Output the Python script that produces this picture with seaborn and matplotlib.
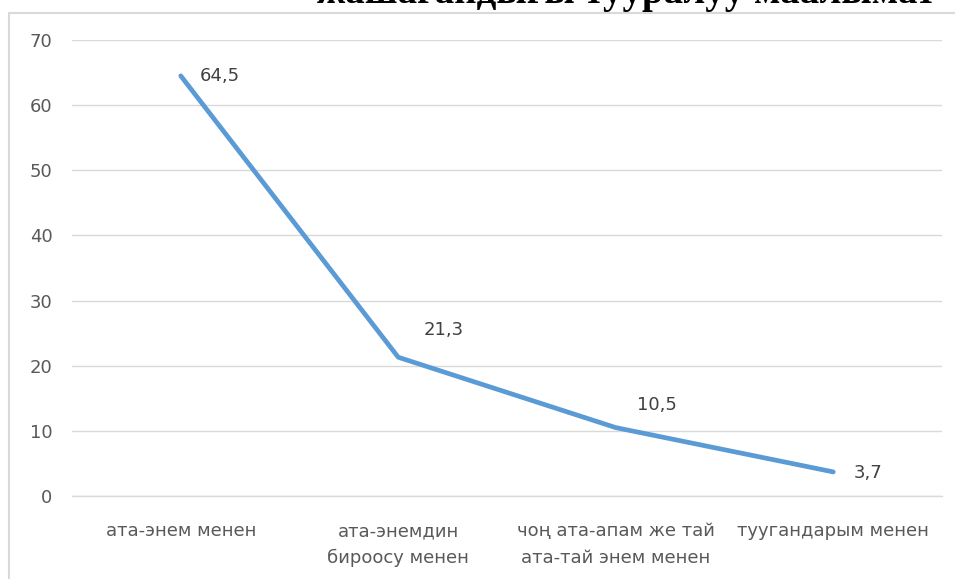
import matplotlib
matplotlib.use("Agg")
import matplotlib.pyplot as plt
from matplotlib.lines import Line2D
import seaborn as sns
import pandas as pd

# Chart data
categories = [
    "ата-энем менен",
    "ата-энемдин\nбироосу менен",
    "чоң ата-апам же тай\nата-тай энем менен",
    "туугандарым менен",
]
values = [64.5, 21.3, 10.5, 3.7]
value_labels = ["64,5", "21,3", "10,5", "3,7"]
y_ticks = [0, 10, 20, 30, 40, 50, 60, 70]
title = "жашагандыгы тууралуу маалымат"

sns.set_style("white")
plt.rcParams["font.family"] = ["DejaVu Sans"]

W, H = 955, 579
fig = plt.figure(figsize=(W / 100, H / 100), dpi=100)
ax = fig.add_axes([72 / W, 1 - 496 / H, 870 / W, 456 / H])

df = pd.DataFrame({"category": categories, "value": values})
sns.lineplot(data=df, x="category", y="value", ax=ax, color="#5B9BD5",
             linewidth=3.4, solid_capstyle="round", solid_joinstyle="round",
             sort=False)

ax.set_xlim(-0.5, len(categories) - 0.5)
ax.set_ylim(0, 70)
ax.set_yticks(y_ticks)
ax.set_yticklabels([str(t) for t in y_ticks])
ax.set_xlabel("")
ax.set_ylabel("")
ax.grid(axis="y", color="#D9D9D9", linewidth=1)
ax.set_axisbelow(True)
for side in ["top", "right", "left"]:
    ax.spines[side].set_visible(False)
ax.spines["bottom"].set_color("#D9D9D9")
ax.spines["bottom"].set_linewidth(1)
ax.tick_params(axis="both", length=0, colors="#595959", labelsize=13)
ax.tick_params(axis="y", pad=14)
ax.tick_params(axis="x", pad=19)
for lab in ax.get_xticklabels():
    lab.set_linespacing(1.62)

# Value labels beside the points
offsets = [(14, 0), (18, 19.5), (15, 16), (15, -1)]
for i, (v, txt) in enumerate(zip(values, value_labels)):
    dx, dy = offsets[i]
    ax.annotate(txt, (i, v), xytext=(dx, dy), textcoords="offset points",
                ha="left", va="center", fontsize=13, color="#404040")

# Frame around the chart area
fig.add_artist(Line2D([8.5 / W, 1], [1 - 12.5 / H, 1 - 12.5 / H],
                      transform=fig.transFigure, color="#D9D9D9", linewidth=1.5))
fig.add_artist(Line2D([8.5 / W, 8.5 / W], [1 - 12.5 / H, 0],
                      transform=fig.transFigure, color="#D9D9D9", linewidth=1.5))

# Heading text above the frame
fig.text(626 / W, 1 - 3 / H, title, ha="center", va="baseline",
         fontsize=28, fontweight="bold", family=["Liberation Serif"], color="black")

fig.savefig("out.png", dpi=100)
